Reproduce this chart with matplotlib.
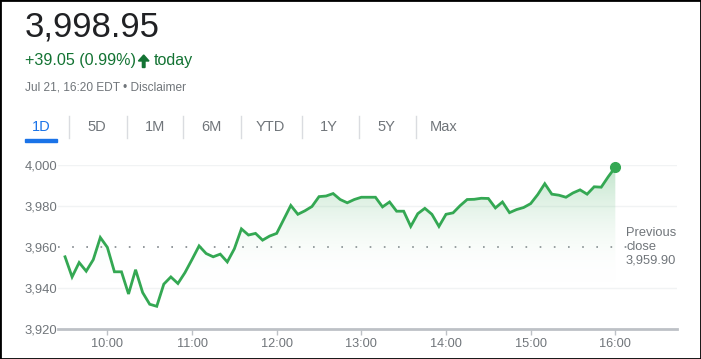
import matplotlib.pyplot as plt
import numpy as np
from matplotlib.patches import Polygon, Rectangle
from matplotlib.colors import LinearSegmentedColormap

# Intraday data, 5-minute steps from 9:30 to 16:00
start_minute = 9 * 60 + 30
prices = [3955.3, 3945.5, 3952.5, 3948.3, 3953.9, 3964.7, 3959.9, 3948.0, 3948.0, 3937.2,
          3949.0, 3937.9, 3932.2, 3931.2, 3942.0, 3945.5, 3942.3, 3947.6, 3954.0, 3960.6,
          3956.9, 3955.3, 3956.6, 3952.8, 3959.2, 3968.9, 3965.9, 3966.7, 3963.4, 3965.4,
          3966.7, 3973.5, 3980.3, 3976.0, 3977.7, 3979.8, 3984.6, 3984.9, 3986.1, 3983.2,
          3981.6, 3983.2, 3984.3, 3984.3, 3984.3, 3979.6, 3982.0, 3977.5, 3977.5, 3970.1,
          3976.3, 3978.9, 3976.0, 3970.1, 3976.0, 3976.7, 3980.2, 3983.2, 3983.3, 3983.8,
          3983.7, 3979.1, 3982.0, 3976.8, 3978.3, 3979.3, 3981.2, 3985.6, 3990.9, 3985.8,
          3985.3, 3984.3, 3986.4, 3987.9, 3985.8, 3989.4, 3989.2, 3994.3, 3998.95]
prev_close = 3959.90
y_ticks = [3920, 3940, 3960, 3980, 4000]
x_ticks = [600, 660, 720, 780, 840, 900, 960]
x_labels = ['10:00', '11:00', '12:00', '13:00', '14:00', '15:00', '16:00']
tabs = ['1D', '5D', '1M', '6M', 'YTD', '1Y', '5Y', 'Max']

minutes = start_minute + 5 * np.arange(len(prices))

plt.rcParams['font.family'] = ['Liberation Sans', 'DejaVu Sans']
green = '#34a853'
gray = '#70757a'

fig = plt.figure(figsize=(7.01, 3.59), dpi=100)
W, H = 701, 359


def fpt(px, py):
    # pixel position (from top-left) -> figure fraction
    return (px / W, 1 - py / H)


# header
fig.text(*fpt(25, 27), '3,998.95', fontsize=25, color='#202124', va='center', ha='left')
fig.text(*fpt(25, 61), '+39.05 (0.99%)', fontsize=11.6, color='#137333', va='center', ha='left')
arrow = [(143.7, 55), (149, 61), (145, 61), (145, 67.5), (142.4, 67.5), (142.4, 61), (138.4, 61)]
fig.add_artist(Polygon([fpt(*p) for p in arrow], closed=True, color='#137333',
                       transform=fig.transFigure))
fig.text(*fpt(154, 61), 'today', fontsize=11.6, color='#137333', va='center', ha='left')
fig.text(*fpt(25, 88), 'Jul 21, 16:20 EDT \u2022 Disclaimer', fontsize=8.6, color=gray,
         va='center', ha='left')

# tabs
tab_x = [41, 97, 155, 211, 270, 329, 386, 444]
for i, (t, tx) in enumerate(zip(tabs, tab_x)):
    fig.text(*fpt(tx, 127), t, fontsize=10.5, color='#1a73e8' if i == 0 else gray,
             ha='center', va='center')
for sx in [69, 126.5, 183, 240.5, 301.5, 358.5, 415.5]:
    fig.add_artist(plt.Line2D([sx / W, sx / W], [1 - 116 / H, 1 - 138 / H],
                              color='#dadce0', lw=1, transform=fig.transFigure))
fig.add_artist(Rectangle(fpt(25, 142), 32 / W, 3 / H, color='#1a73e8',
                         transform=fig.transFigure))

# chart
ax = fig.add_axes([57.7 / W, (H - 329.3) / H, (676.7 - 57.7) / W, (329.3 - 165) / H])
ax.set_xlim(564.8, 1003.5)
ax.set_ylim(3920, 4000)

for yv in [3940, 3980, 4000]:
    ax.axhline(yv, color='#f1f3f4', lw=1, zorder=0)
ax.plot([564.8, 968], [prev_close, prev_close], color='#80868b', lw=1.2,
        linestyle=(0, (1, 7.5)), zorder=1)

# gradient fill under the line
cmap = LinearSegmentedColormap.from_list('g', [(1, 1, 1, 0), (0.2, 0.66, 0.33, 0.32)])
grad = np.clip((np.linspace(3920, 4000, 256) - 3942) / 58, 0, 1).reshape(-1, 1)
img = ax.imshow(grad, extent=[minutes[0], minutes[-1], 3920, 4000], origin='lower',
                aspect='auto', cmap=cmap, vmin=0, vmax=1, zorder=1)
poly = Polygon(np.column_stack([np.r_[minutes, minutes[-1], minutes[0]],
                                np.r_[prices, 3920, 3920]]), closed=True,
               facecolor='none', edgecolor='none', transform=ax.transData)
ax.add_patch(poly)
img.set_clip_path(poly)

ax.plot(minutes, prices, color=green, lw=2, zorder=3, solid_joinstyle='miter')
ax.plot(minutes[-1], prices[-1], 'o', color=green, ms=7, zorder=4, clip_on=False)

ax.text(967.6, 3960.2, 'Previous\nclose\n3,959.90', fontsize=9.3, color=gray,
        ha='left', va='center', linespacing=1.15)

ax.set_yticks(y_ticks)
ax.set_yticklabels([f'{v:,}' for v in y_ticks])
ax.set_xticks(x_ticks)
ax.set_xticklabels(x_labels)
ax.tick_params(axis='y', length=0, labelsize=9.4, labelcolor=gray, pad=0.5)
ax.tick_params(axis='x', length=4, width=1, color='#bdc1c6', labelsize=9.2,
               labelcolor=gray, pad=2)
for s in ['top', 'right', 'left']:
    ax.spines[s].set_visible(False)
ax.spines['bottom'].set_color('#bdc1c6')
ax.spines['bottom'].set_linewidth(2)
ax.set_facecolor('none')

fig.add_artist(Rectangle((0, 0), 1, 1, fill=False, ec='black', lw=2,
                         transform=fig.transFigure))

fig.savefig('out.png', dpi=100)
